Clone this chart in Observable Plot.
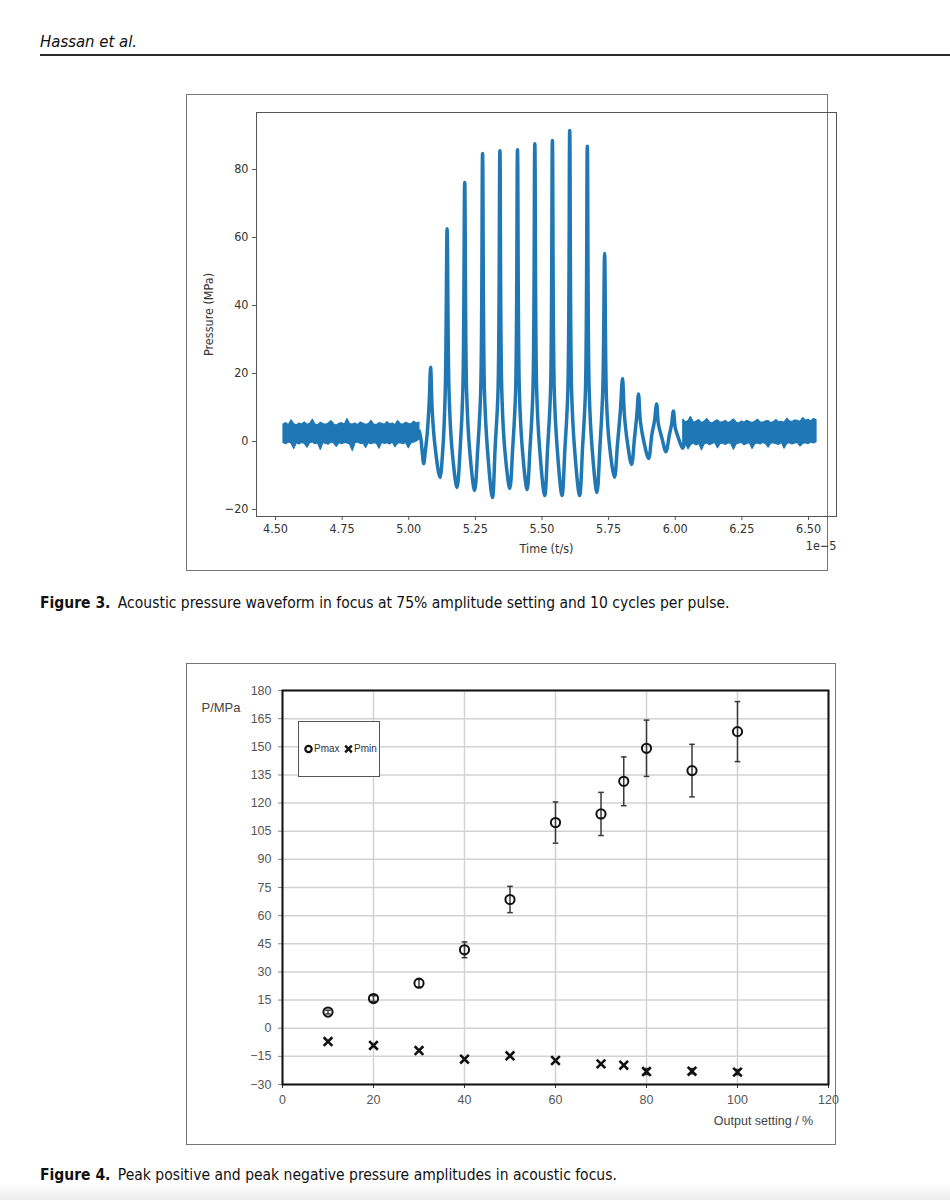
<!DOCTYPE html>
<html><head><meta charset="utf-8">
<script src="https://cdn.jsdelivr.net/npm/d3@7"></script>
<script src="https://cdn.jsdelivr.net/npm/@observablehq/plot@0.6"></script>
<style>
html,body{margin:0;padding:0;background:#fff;}
#page{position:relative;width:950px;height:1200px;overflow:hidden;font-family:"Liberation Sans Narrow","DejaVu Sans Condensed",sans-serif;font-stretch:condensed;color:#111;}
.abs{position:absolute;}
#hdr{left:40px;top:32px;font-size:16.6px;font-style:italic;color:#111;white-space:nowrap;}
#rule{left:40px;top:54px;width:910px;height:2px;background:#2a2a2a;}
.frame{border:1px solid #777;box-sizing:border-box;}
.cap{left:40px;font-size:15.5px;white-space:nowrap;color:#111;}
.cap b{font-weight:bold;margin-right:3px;}
#legend{left:298px;top:721px;width:82px;height:56px;border:1px solid #555;box-sizing:border-box;background:#fff;font-family:"Liberation Sans",Arial,sans-serif;font-size:10px;color:#333;}
#fade{left:0;top:1184px;width:950px;height:16px;background:linear-gradient(#fff,#ececec);}
</style></head>
<body><div id="page">
<div id="hdr" class="abs">Hassan et al.</div>
<div id="rule" class="abs"></div>
<div id="f3frame" class="abs frame" style="left:186px;top:94px;width:642px;height:477px;"></div>
<div id="fig3" class="abs" style="left:0;top:94px;"></div>
<div id="cap3" class="abs cap" style="top:594px;"><b>Figure 3.</b> Acoustic pressure waveform in focus at 75% amplitude setting and 10 cycles per pulse.</div>
<div id="f4frame" class="abs frame" style="left:186px;top:663px;width:650px;height:482px;"></div>
<div id="fig4" class="abs" style="left:0;top:663px;"></div>
<div id="legend" class="abs">
  <svg width="80" height="54" style="position:absolute;left:0;top:0">
    <circle cx="9.5" cy="27" r="3.2" fill="none" stroke="#111" stroke-width="2.2"></circle>
    <path d="M46.2,23.7L52.8,30.3M46.2,30.3L52.8,23.7" stroke="#111" stroke-width="2.4"></path>
  </svg>
  <span style="position:absolute;left:15px;top:21px;">Pmax</span>
  <span style="position:absolute;left:55px;top:21px;">Pmin</span>
</div>
<div id="cap4" class="abs cap" style="top:1166px;"><b>Figure 4.</b> Peak positive and peak negative pressure amplitudes in acoustic focus.</div>
<div id="fade" class="abs"></div>
</div>
<script>
// ---------- Figure 3: waveform (time in units of 1e-5 s, pressure in MPa) ----------
const fig3XTicks = [4.50, 4.75, 5.00, 5.25, 5.50, 5.75, 6.00, 6.25, 6.50];
const fig3YTicks = [-20, 0, 20, 40, 60, 80];

// pre-pulse noise band
const noiseTime1 = [4.53,4.54,4.55,4.56,4.57,4.58,4.59,4.60,4.61,4.62,4.63,4.64,4.65,4.66,4.67,4.68,4.69,4.70,4.71,4.72,4.73,4.74,4.75,4.76,4.77,4.78,4.79,4.80,4.81,4.82,4.83,4.84,4.85,4.86,4.87,4.88,4.89,4.90,4.91,4.92,4.93,4.94,4.95,4.96,4.97,4.98,4.99,5.00,5.01,5.02,5.03,5.04];
const noiseHigh1 = [5.0,5.4,4.8,6.2,5.1,4.7,5.3,5.0,5.6,4.9,5.2,6.4,5.0,4.8,5.5,5.1,4.9,5.3,6.0,5.0,4.7,5.2,5.4,4.9,6.6,5.1,5.0,5.3,4.8,5.6,5.2,4.9,5.1,6.1,5.0,4.8,5.4,5.2,4.9,5.7,5.0,5.3,4.8,6.0,5.1,4.9,5.5,5.2,5.0,5.8,5.3,5.6];
const noiseLow1 = [-0.4,-0.8,-0.3,-0.6,-2.2,-0.5,-0.9,-0.4,-0.7,-1.8,-0.5,-0.3,-0.8,-0.6,-2.5,-0.4,-0.7,-0.9,-0.3,-0.6,-1.6,-0.5,-0.8,-0.4,-0.6,-0.9,-2.8,-0.5,-0.3,-0.7,-0.6,-1.9,-0.4,-0.8,-0.5,-0.6,-2.1,-0.4,-0.7,-0.5,-0.9,-0.3,-1.7,-0.6,-0.5,-0.8,-0.4,-2.0,-0.6,-0.3,0.0,0.6];

// post-pulse noise band
const noiseTime2 = [6.03,6.04,6.05,6.06,6.07,6.08,6.09,6.10,6.11,6.12,6.13,6.14,6.15,6.16,6.17,6.18,6.19,6.20,6.21,6.22,6.23,6.24,6.25,6.26,6.27,6.28,6.29,6.30,6.31,6.32,6.33,6.34,6.35,6.36,6.37,6.38,6.39,6.40,6.41,6.42,6.43,6.44,6.45,6.46,6.47,6.48,6.49,6.50,6.51,6.52,6.53];
const noiseHigh2 = [6.4,5.6,6.0,6.8,5.5,5.9,6.3,5.4,5.8,6.6,5.6,5.3,5.9,6.2,5.5,5.7,6.0,5.4,5.8,6.5,5.6,5.3,5.9,5.5,6.1,5.7,5.4,5.8,6.4,5.6,5.5,5.9,6.0,5.4,5.7,6.3,5.6,5.8,5.5,6.7,5.9,5.7,6.2,6.0,5.8,6.9,6.1,6.4,5.9,6.6,6.3];
const noiseLow2 = [-1.5,-0.8,-2.3,-1.0,-0.6,-1.2,-0.7,-2.6,-0.9,-0.5,-1.1,-0.7,-0.4,-2.0,-0.8,-0.6,-1.0,-0.5,-0.7,-2.4,-0.9,-0.6,-0.4,-1.1,-0.7,-0.5,-2.2,-0.8,-0.6,-0.9,-0.4,-0.7,-1.8,-0.6,-0.5,-0.8,-1.0,-0.4,-2.1,-0.7,-0.5,-0.9,-0.6,-0.4,-1.5,-0.7,-0.5,-0.8,-0.3,-0.6,-0.2];

// pulse: peaks, flanks and troughs [time, pressure]
const pulseSamples = [
  [5.040,3.0],[5.046,0.5],[5.051,-3.5],[5.056,-6.5],[5.062,-3.0],[5.070,3.0],[5.077,12.0],[5.082,21.8],[5.088,9.0],[5.098,-1.0],[5.117,-10.6],
  [5.128,-2],[5.137,15],[5.144,62.6],[5.151,15],[5.162,-2],[5.181,-13.5],
  [5.193,-2],[5.203,15],[5.210,76.2],[5.217,15],[5.228,-2],[5.247,-14.4],
  [5.259,-2],[5.270,15],[5.277,84.7],[5.284,15],[5.295,-2],[5.314,-16.5],
  [5.324,-2],[5.335,15],[5.342,85.5],[5.349,15],[5.360,-2],[5.379,-13.8],
  [5.390,-2],[5.401,15],[5.408,85.8],[5.415,15],[5.426,-2],[5.444,-14.1],
  [5.455,-2],[5.466,15],[5.473,87.6],[5.480,15],[5.491,-2],[5.510,-15.9],
  [5.521,-2],[5.532,15],[5.539,88.5],[5.546,15],[5.557,-2],[5.575,-15.9],
  [5.586,-2],[5.597,15],[5.604,91.5],[5.611,15],[5.622,-2],[5.641,-15.9],
  [5.652,-2],[5.663,15],[5.670,86.8],[5.677,15],[5.688,-2],[5.706,-15.0],
  [5.717,-2],[5.728,15],[5.735,55.3],[5.742,12],[5.753,-1],[5.772,-10.5],
  [5.783,-1],[5.794,9],[5.802,18.5],[5.809,8],[5.820,0],[5.836,-6.8],
  [5.847,1],[5.856,8],[5.862,14.0],[5.869,6],[5.882,0],[5.900,-5.0],
  [5.912,2],[5.922,6],[5.930,11.0],[5.937,5],[5.950,1],[5.965,-3.0],
  [5.978,2],[5.986,5],[5.993,9.0],[6.000,4],[6.012,1],[6.028,-2.0],
  [6.042,2],[6.050,4],[6.057,7.0],[6.064,3]
];

// ---------- Figure 4: peak pressures ----------
const outputSetting = [10, 20, 30, 40, 50, 60, 70, 75, 80, 90, 100];
const pMax    = [8.6, 15.8, 24.0, 41.8, 68.6, 109.6, 114.2, 131.6, 149.2, 137.3, 158.1];
const pMaxErr = [1.0, 1.5, 2.0, 4.2, 7.0, 11.0, 11.5, 13.0, 15.0, 14.0, 16.0];
const pMin    = [-7.1, -9.2, -11.9, -16.5, -14.7, -17.2, -19.0, -19.7, -23.1, -22.9, -23.4];
const pMinErr = [0, 0, 0, 0, 0, 0, 0, 0, 1.6, 1.4, 1.4];
const fig4XTicks = [0, 20, 40, 60, 80, 100, 120];
const fig4YTicks = [-30, -15, 0, 15, 30, 45, 60, 75, 90, 105, 120, 135, 150, 165, 180];

// ---------- build Figure 3 ----------
const blue = "#1f77b4";
const noise1 = noiseTime1.map((t, i) => ({t, hi: noiseHigh1[i], lo: noiseLow1[i]}));
const noise2 = noiseTime2.map((t, i) => ({t, hi: noiseHigh2[i], lo: noiseLow2[i]}));
const pulse = pulseSamples.map(([t, p]) => ({t, p}));

const fig3 = Plot.plot({
  width: 950, height: 480,
  marginTop: 18, marginBottom: 58, marginLeft: 256, marginRight: 114,
  style: {fontFamily: "'DejaVu Sans', sans-serif", fontSize: "12.5px", color: "#333", background: "transparent", overflow: "visible"},
  x: {domain: [4.4287, 6.605]},
  y: {domain: [-22.06, 96.76]},
  marks: [
    Plot.areaY(noise1, {x: "t", y1: "lo", y2: "hi", fill: blue, stroke: blue, strokeWidth: 1.2}),
    Plot.areaY(noise2, {x: "t", y1: "lo", y2: "hi", fill: blue, stroke: blue, strokeWidth: 1.2}),
    Plot.line(pulse, {x: "t", y: "p", stroke: blue, strokeWidth: 3.5, curve: "catmull-rom"}),
    Plot.frame({stroke: "#555", strokeWidth: 1}),
    Plot.axisX({ticks: fig3XTicks, tickFormat: d3.format(".2f"), tickSize: 4, tickPadding: 4, stroke: "#555", fontSize: 12.5, fill: "#333",
      label: "Time (t/s)", labelAnchor: "center", labelArrow: "none", labelOffset: 36}),
    Plot.axisY({ticks: fig3YTicks, tickSize: 4, tickPadding: 4, stroke: "#555", fontSize: 12.5, fill: "#333",
      tickFormat: d => d < 0 ? "\u2212" + Math.abs(d) : String(d),
      label: "Pressure (MPa)", labelAnchor: "center", labelArrow: "none", labelOffset: 52}),
    Plot.text(["1e\u22125"], {text: d => d, frameAnchor: "bottom-right", textAnchor: "end", dx: 0, dy: 33, fill: "#333", fontSize: 12.5})
  ]
});
document.getElementById("fig3").append(fig3);

// ---------- build Figure 4 ----------
const rows = outputSetting.map((x, i) => ({x, pmax: pMax[i], emax: pMaxErr[i], pmin: pMin[i], emin: pMinErr[i]}));
const capHalf = 0.62;
const bars = [];
rows.forEach(r => {
  bars.push({x: r.x, lo: r.pmax - r.emax, hi: r.pmax + r.emax});
  if (r.emin > 0) bars.push({x: r.x, lo: r.pmin - r.emin, hi: r.pmin + r.emin});
});
const caps = bars.flatMap(b => [{x: b.x, y: b.lo}, {x: b.x, y: b.hi}]);

const fig4 = Plot.plot({
  width: 950, height: 482,
  marginTop: 27, marginBottom: 61, marginLeft: 282, marginRight: 122,
  style: {fontFamily: "'Liberation Sans', Arial, sans-serif", fontSize: "12.5px", color: "#555", background: "transparent", overflow: "visible"},
  x: {domain: [0, 120]},
  y: {domain: [-30, 180]},
  marks: [
    Plot.gridX(fig4XTicks, {stroke: "#d2d2d2", strokeOpacity: 1, strokeWidth: 1.5}),
    Plot.gridY(fig4YTicks, {stroke: "#d2d2d2", strokeOpacity: 1, strokeWidth: 1.5}),
    Plot.axisX({ticks: fig4XTicks, tickSize: 4, tickPadding: 7, stroke: "#333", fontSize: 12.5, fill: "#555", label: null}),
    Plot.axisY({ticks: fig4YTicks, tickSize: 4, tickPadding: 7, stroke: "#888", fontSize: 12.5, fill: "#555", label: null}),
    Plot.ruleX(bars, {x: "x", y1: "lo", y2: "hi", stroke: "#3a3a3a", strokeWidth: 1.5}),
    Plot.link(caps, {x1: d => d.x - capHalf, x2: d => d.x + capHalf, y1: "y", y2: "y", stroke: "#3a3a3a", strokeWidth: 1.5}),
    Plot.dot(rows, {x: "x", y: "pmax", r: 4.6, stroke: "#111", strokeWidth: 2, fill: "none"}),
    Plot.dot(rows, {x: "x", y: "pmin", symbol: "times", r: 4.0, stroke: "#111", strokeWidth: 2.6}),
    Plot.frame({stroke: "#111", strokeWidth: 2}),
    Plot.text(["P/MPa"], {text: d => d, frameAnchor: "top-left", textAnchor: "start", dx: -81, dy: 12, fill: "#444", fontSize: 13}),
    Plot.text(["Output setting / %"], {text: d => d, frameAnchor: "bottom", textAnchor: "middle", dx: 208, dy: 40, fill: "#444", fontSize: 12.5})
  ]
});
document.getElementById("fig4").append(fig4);
</script>
</body></html>
